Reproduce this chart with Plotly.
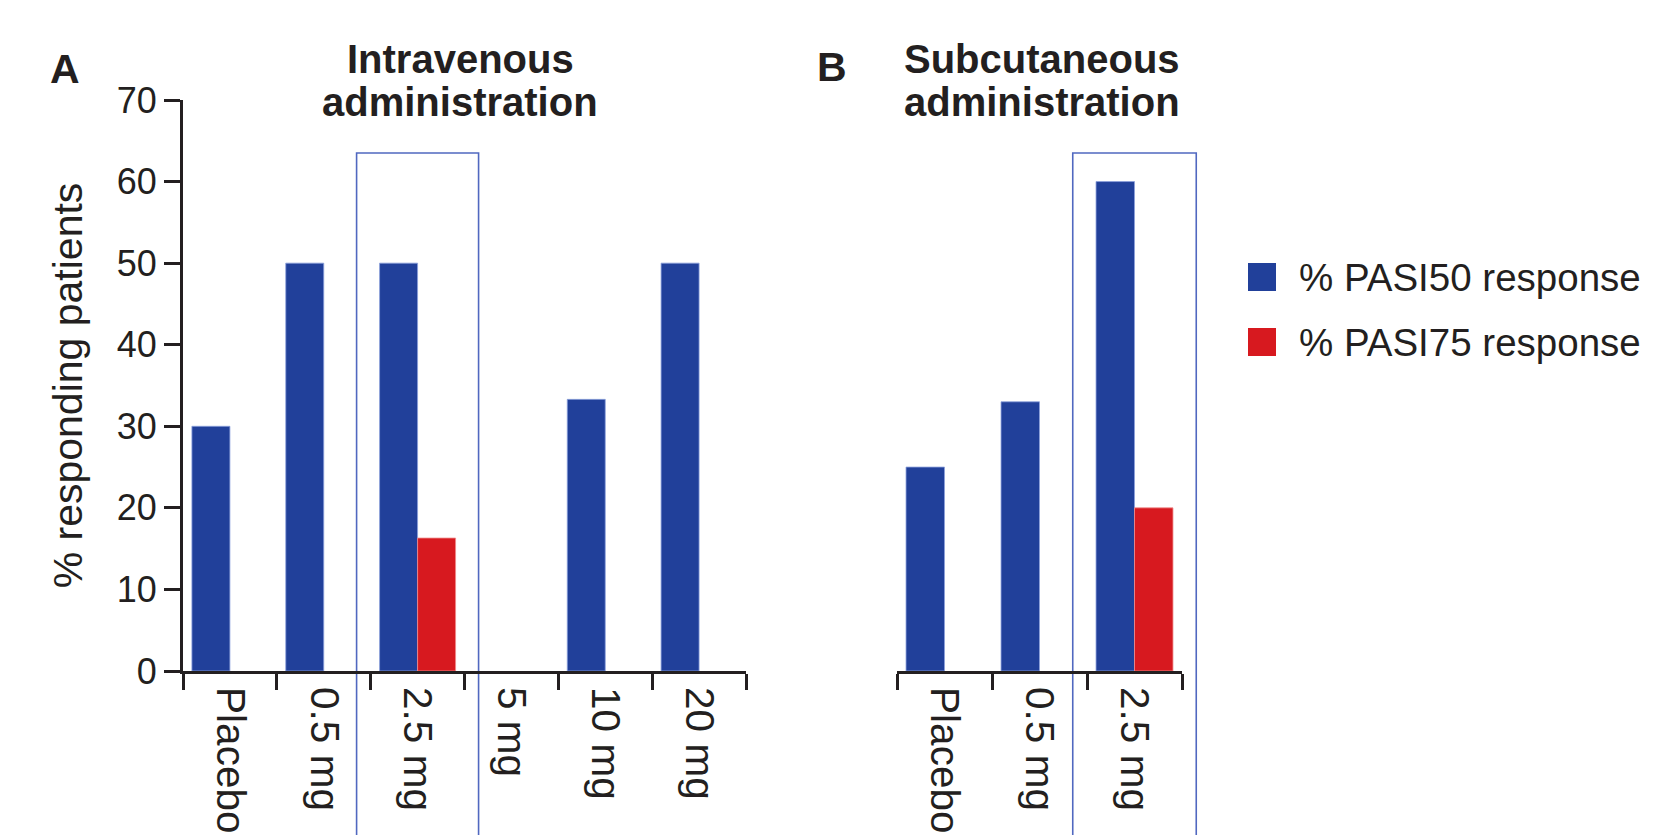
import plotly.graph_objects as go

# ---------------- data ----------------
iv_categories = ["Placebo", "0.5 mg", "2.5 mg", "5 mg", "10 mg", "20 mg"]
iv_pasi50 = [30, 50, 50, None, 33.3, 50]
iv_pasi75 = [None, None, 16.3, None, None, None]

sc_categories = ["Placebo", "0.5 mg", "2.5 mg"]
sc_pasi50 = [25, 33, 60]
sc_pasi75 = [None, None, 20]

series_names = ["% PASI50 response", "% PASI75 response"]
y_ticks = [0, 10, 20, 30, 40, 50, 60, 70]
panel_titles = [("Intravenous", "administration"), ("Subcutaneous", "administration")]
panel_letters = ["A", "B"]
y_title = "% responding patients"
highlight_category = "2.5 mg"
highlight_top = 63.5

# ---------------- style ----------------
BLUE = "#21409a"
RED = "#d7191f"
BOX = "#5068c0"
INK = "#231f20"
FONT = "Liberation Sans, Arial, Helvetica, sans-serif"

# the page body has an 8px margin; the figure is sized to fill the rest
OFF = 8
W, H = 1658 - OFF, 835 - OFF
L = 183 - OFF
T = 100 - OFF
B = H - (671 - OFF)
R = W - (1182 - OFF)
PW = W - L - R
PH = H - T - B


def px_x(px):
    """reference-screen x pixel -> paper fraction"""
    return (px - OFF - L) / PW


def px_y(py):
    """reference-screen y pixel -> paper fraction"""
    return (H - B - (py - OFF)) / PH


dom_a = [0, px_x(746)]
dom_b = [px_x(897), 1.0]

fig = go.Figure()

blue_line = dict(color="rgba(140,160,220,0.8)", width=1)
red_line = dict(color="rgba(240,140,140,0.8)", width=1)
fig.add_trace(go.Bar(x=iv_categories, y=iv_pasi50, name=series_names[0],
                     marker=dict(color=BLUE, line=blue_line), xaxis="x", yaxis="y",
                     showlegend=False))
fig.add_trace(go.Bar(x=iv_categories, y=iv_pasi75, name=series_names[1],
                     marker=dict(color=RED, line=red_line), xaxis="x", yaxis="y",
                     showlegend=False))
fig.add_trace(go.Bar(x=sc_categories, y=sc_pasi50, name=series_names[0],
                     marker=dict(color=BLUE, line=blue_line), xaxis="x2", yaxis="y2",
                     showlegend=False))
fig.add_trace(go.Bar(x=sc_categories, y=sc_pasi75, name=series_names[1],
                     marker=dict(color=RED, line=red_line), xaxis="x2", yaxis="y2",
                     showlegend=False))

xcommon = dict(type="category", showline=True, linecolor=INK, linewidth=3,
               ticks="outside", tickson="boundaries", ticklen=16, tickwidth=3,
               tickcolor=INK, tickangle=90, showgrid=False, zeroline=False,
               ticklabelstandoff=5, automargin=False,
               tickfont=dict(family=FONT, size=40.5, color=INK))

fig.update_layout(
    width=W, height=H,
    margin=dict(l=L, r=R, t=T, b=B, pad=0, autoexpand=False),
    paper_bgcolor="white", plot_bgcolor="white",
    barmode="group", bargap=0.19, bargroupgap=0,
    font=dict(family=FONT, color=INK),
    xaxis=dict(domain=dom_a, anchor="y", range=[-0.5, len(iv_categories) - 0.5],
               categoryorder="array", categoryarray=iv_categories, **xcommon),
    xaxis2=dict(domain=dom_b, anchor="y2", range=[-0.5, len(sc_categories) - 0.5],
                categoryorder="array", categoryarray=sc_categories, **xcommon),
    yaxis=dict(domain=[0, 1], anchor="x", range=[0, 70], tickvals=y_ticks,
               showline=True, linecolor=INK, linewidth=3, ticks="outside",
               ticklen=16, tickwidth=3, tickcolor=INK, showgrid=False, zeroline=False,
               automargin=False,
               tickfont=dict(family=FONT, size=36, color=INK),
               title=dict(text=y_title, font=dict(family=FONT, size=41, color=INK), standoff=22)),
    yaxis2=dict(domain=[0, 1], anchor="x2", range=[0, 70], visible=False),
    showlegend=False,
)

# highlight boxes around the 2.5 mg groups (domain refs so they are not clipped)
for cats, xref, yref in [(iv_categories, "x domain", "y domain"),
                         (sc_categories, "x2 domain", "y2 domain")]:
    i = cats.index(highlight_category)
    n = len(cats)
    x0 = (i - 0.5 - 0.15 + 0.5) / n
    x1 = (i + 0.5 + 0.15 + 0.5) / n
    fig.add_shape(type="rect", xref=xref, yref=yref, x0=x0, x1=x1,
                  y0=-0.4, y1=highlight_top / 70,
                  line=dict(color=BOX, width=1.6), fillcolor="rgba(0,0,0,0)", layer="below")

# panel titles
for (l1, l2), cx in zip(panel_titles, [460, 1042]):
    fig.add_annotation(text=f"<b>{l1}</b>", xref="paper", yref="paper",
                       x=px_x(cx), y=px_y(59), showarrow=False, xanchor="center", yanchor="middle",
                       font=dict(family=FONT, size=40, color=INK))
    fig.add_annotation(text=f"<b>{l2}</b>", xref="paper", yref="paper",
                       x=px_x(cx), y=px_y(102), showarrow=False, xanchor="center", yanchor="middle",
                       font=dict(family=FONT, size=40, color=INK))

for letter, cx, cy in zip(panel_letters, [65, 832], [69, 67]):
    fig.add_annotation(text=f"<b>{letter}</b>", xref="paper", yref="paper",
                       x=px_x(cx), y=px_y(cy), showarrow=False, xanchor="center", yanchor="middle",
                       font=dict(family=FONT, size=41, color=INK))

# legend (drawn manually to get large swatches)
for name, color, cy in zip(series_names, [BLUE, RED], [277, 342]):
    fig.add_shape(type="rect", xref="paper", yref="paper",
                  x0=px_x(1248), x1=px_x(1276), y0=px_y(cy + 14), y1=px_y(cy - 14),
                  fillcolor=color, line=dict(width=0))
    fig.add_annotation(text=name, xref="paper", yref="paper", x=px_x(1297), y=px_y(cy),
                       showarrow=False, xanchor="left", yanchor="middle",
                       font=dict(family=FONT, size=38.5, color=INK))

fig.write_html("out.html")
